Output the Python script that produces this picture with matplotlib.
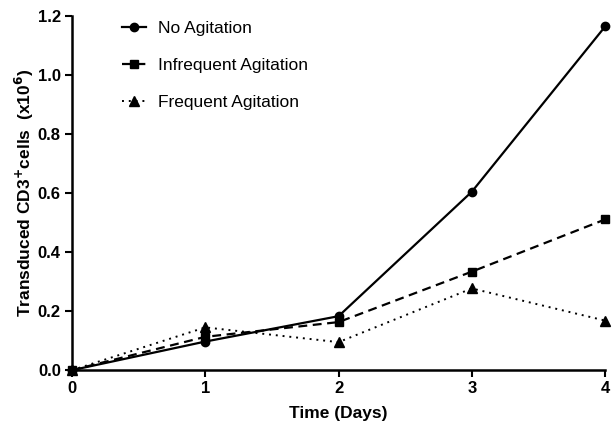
import matplotlib
matplotlib.use("Agg")
import matplotlib.pyplot as plt

plt.rcParams['font.family'] = ['Liberation Sans', 'DejaVu Sans']

days = [0, 1, 2, 3, 4]
no_agitation = [0.0, 0.097, 0.183, 0.605, 1.165]
infrequent = [0.0, 0.113, 0.163, 0.334, 0.511]
frequent = [0.0, 0.145, 0.095, 0.277, 0.168]
xticks = [0, 1, 2, 3, 4]
yticks = [0.0, 0.2, 0.4, 0.6, 0.8, 1.0, 1.2]

fig = plt.figure(figsize=(6.15, 4.25), dpi=100)
ax = fig.add_axes([0.117, 0.129, 0.867, 0.833])

ax.plot(days, no_agitation, color='black', lw=1.6, ls='-', marker='o', ms=6, clip_on=False, label='No Agitation', zorder=3)
ax.plot(days, infrequent, color='black', lw=1.6, ls=(0, (4, 2.5)), marker='s', ms=6, clip_on=False, label='Infrequent Agitation', zorder=3)
ax.plot(days, frequent, color='black', lw=1.4, ls=(0, (1, 2.5)), marker='^', ms=6.5, clip_on=False, label='Frequent Agitation', zorder=3)

ax.set_xlim(0, 4)
ax.set_ylim(0, 1.2)
ax.set_xticks(xticks)
ax.set_yticks(yticks)
ax.set_xticklabels([str(t) for t in xticks], fontweight='bold', fontsize=12)
ax.set_yticklabels([f"{t:.1f}" for t in yticks], fontweight='bold', fontsize=12)

for s in ['top', 'right']:
    ax.spines[s].set_visible(False)
for s in ['left', 'bottom']:
    ax.spines[s].set_linewidth(1.8)
ax.tick_params(width=1.5, length=5, direction='out', pad=3)

ax.set_xlabel('Time (Days)', fontweight='bold', fontsize=12.5, labelpad=7)
ax.set_ylabel(r'Transduced CD3$^{\mathbf{+}}$cells  (x10$^{\mathbf{6}}$)', fontweight='bold', fontsize=12.5, labelpad=1)

leg = ax.legend(loc='upper left', bbox_to_anchor=(0.065, 1.03), frameon=False, fontsize=12.5,
                handlelength=1.35, labelspacing=1.25, handletextpad=0.7)

fig.savefig('out.png', dpi=100)
